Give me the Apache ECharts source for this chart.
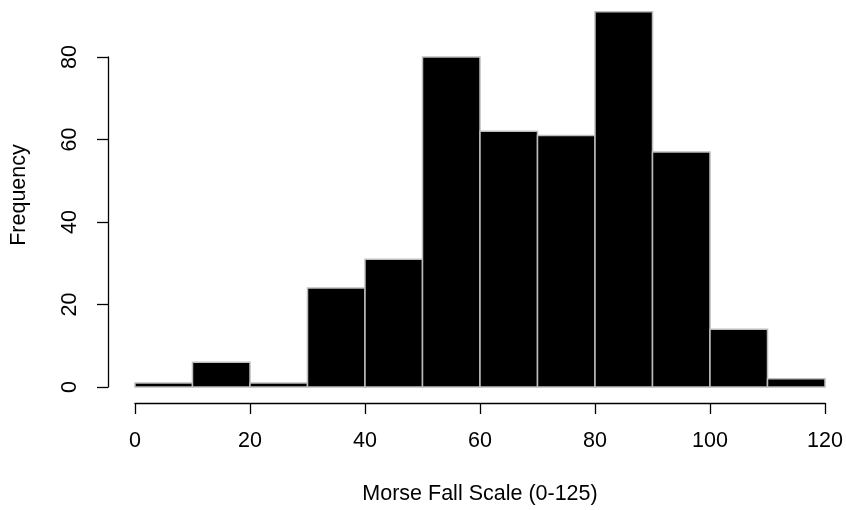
<!DOCTYPE html>
<html>
<head>
<meta charset="utf-8">
<script src="https://cdn.jsdelivr.net/npm/echarts@6/dist/echarts.min.js"></script>
<style>
  html, body { margin: 0; padding: 0; background: #fff; }
  #chart { width: 846px; height: 510px; }
</style>
</head>
<body>
<div id="chart"></div>
<script>
// histogram bins (width 10) and counts
var binStarts = [0, 10, 20, 30, 40, 50, 60, 70, 80, 90, 100, 110];
var binWidth = 10;
var counts = [1, 6, 1, 24, 31, 80, 62, 61, 91, 57, 14, 2];
var xTicks = [0, 20, 40, 60, 80, 100, 120];
var yTicks = [0, 20, 40, 60, 80];

function histogram() {
  var chart = echarts.init(document.getElementById('chart'));
  var data = binStarts.map(function (s, i) {
    return [s, s + binWidth, counts[i]];
  });
  var font = 'Liberation Sans, Arial, Helvetica, sans-serif';
  var option = {
    animation: false,
    grid: { left: 135, right: 21, top: 57, bottom: 122 },
    xAxis: {
      type: 'value',
      min: xTicks[0], max: xTicks[xTicks.length - 1], interval: 20,
      offset: 16,
      name: 'Morse Fall Scale (0-125)',
      nameLocation: 'middle',
      nameGap: 80,
      nameTextStyle: { fontFamily: font, fontSize: 21.5, color: '#000' },
      axisLine: { show: true, onZero: false, lineStyle: { color: '#000', width: 1.3 } },
      axisTick: { show: true, length: 11, lineStyle: { color: '#000', width: 1.3 } },
      axisLabel: { fontFamily: font, fontSize: 21.5, color: '#000', margin: 27 },
      splitLine: { show: false }
    },
    yAxis: {
      type: 'value',
      min: yTicks[0], max: yTicks[yTicks.length - 1], interval: 20,
      offset: 27,
      name: 'Frequency',
      nameLocation: 'middle',
      nameRotate: 90,
      nameGap: 78,
      nameTextStyle: { fontFamily: font, fontSize: 21.5, color: '#000', padding: [0, 0, 0, 54] },
      axisLine: { show: true, onZero: false, lineStyle: { color: '#000', width: 1.3 } },
      axisTick: { show: true, length: 11, lineStyle: { color: '#000', width: 1.3 } },
      axisLabel: { fontFamily: font, fontSize: 21.5, color: '#000', rotate: 90, margin: 27 },
      splitLine: { show: false }
    },
    series: [{
      type: 'custom',
      clip: false,
      data: data,
      encode: { x: [0, 1], y: 2 },
      renderItem: function (params, api) {
        var p0 = api.coord([api.value(0), 0]);
        var p1 = api.coord([api.value(1), api.value(2)]);
        return {
          type: 'rect',
          shape: { x: p0[0], y: p1[1], width: p1[0] - p0[0], height: p0[1] - p1[1] },
          style: { fill: '#000', stroke: '#bdbdbd', lineWidth: 1.5 }
        };
      }
    }]
  };
  chart.setOption(option);
}

histogram();
</script>
</body>
</html>
